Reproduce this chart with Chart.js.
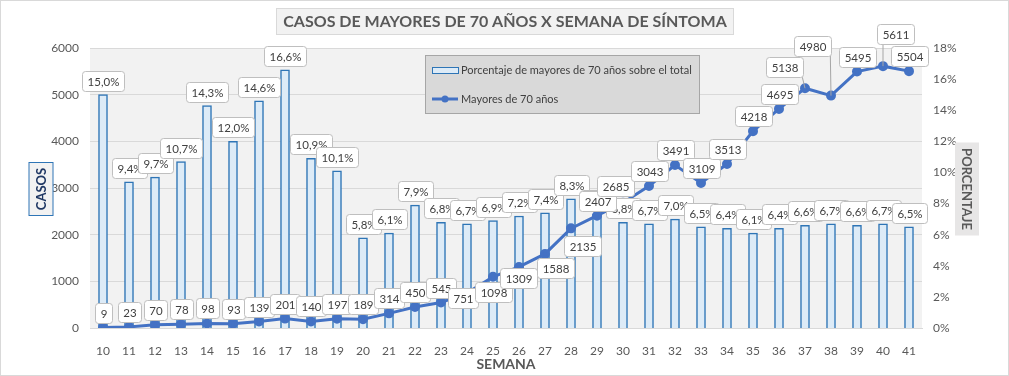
<!DOCTYPE html>
<html lang="es">
<head>
<meta charset="utf-8">
<title>Casos de mayores de 70 años por semana de síntoma</title>
<script src="https://cdn.jsdelivr.net/npm/chart.js@4.4.1/dist/chart.umd.min.js"></script>
<style>
  body { margin: 0; background: #fff; }
  #grafico { display: block; }
</style>
</head>
<body>
<canvas id="grafico" width="1009" height="376"></canvas>
<script>
// Datos
const semanas = [10, 11, 12, 13, 14, 15, 16, 17, 18, 19, 20, 21, 22, 23, 24, 25,
                 26, 27, 28, 29, 30, 31, 32, 33, 34, 35, 36, 37, 38, 39, 40, 41]
// Casos de mayores de 70 años (eje izquierdo)
const mayores70 = [9, 23, 70, 78, 98, 93, 139, 201, 140, 197, 189, 314, 450, 545, 751, 1098,
                   1309, 1588, 2135, 2407, 2685, 3043, 3491, 3109, 3513, 4218, 4695, 5138, 4980, 5495, 5611, 5504]
// Porcentaje de mayores de 70 años sobre el total (eje derecho)
const porcentaje = [15.0, 9.4, 9.7, 10.7, 14.3, 12.0, 14.6, 16.6, 10.9, 10.1, 5.8, 6.1, 7.9, 6.8, 6.7, 6.9,
                    7.2, 7.4, 8.3, 7.3, 6.8, 6.7, 7.0, 6.5, 6.4, 6.1, 6.4, 6.6, 6.7, 6.6, 6.7, 6.5]
const ticksCasos = [0, 1000, 2000, 3000, 4000, 5000, 6000]
const ticksPorcentaje = [0, 2, 4, 6, 8, 10, 12, 14, 16, 18]

// Etiquetas de la linea que no van justo encima del punto (semana: [dx, dy])
const desplazamientoEtiquetas = {
    24: [-4, 5], 25: [0, 15], 26: [-1, 11], 27: [10, 14], 28: [11, 18],
    30: [-8, -17], 37: [-21, -21], 38: [-19, -50], 40: [12, -32]
}

const fuente = "'Lato', 'Liberation Sans', sans-serif"
const grisTexto = "#595959"

// Dibuja una etiqueta con caja blanca redondeada
function cajaEtiqueta(ctx, texto, cx, cy) {
    const w = Math.round(ctx.measureText(texto).width + 10)
    const h = 20
    const x = Math.round(cx - w / 2) + 0.5
    const y = Math.round(cy - h / 2) + 0.5
    ctx.beginPath()
    ctx.roundRect(x, y, w, h, 3)
    ctx.fillStyle = "#ffffff"
    ctx.fill()
    ctx.strokeStyle = "#bfbfbf"
    ctx.lineWidth = 1
    ctx.stroke()
    ctx.fillStyle = "#404040"
    ctx.fillText(texto, x + w / 2, y + h / 2 + 0.5)
}

// Fondo, titulo, titulos de ejes y leyenda
const decoracion = {
    id: "decoracion",
    beforeDraw(chart) {
        const ctx = chart.ctx
        const a = chart.chartArea
        ctx.save()
        ctx.fillStyle = "#ffffff"
        ctx.fillRect(0, 0, chart.width, chart.height)
        ctx.fillStyle = "#f2f2f2"
        ctx.fillRect(a.left, a.top, a.right - a.left, a.bottom - a.top)
        ctx.strokeStyle = "#d9d9d9"
        ctx.lineWidth = 1
        ctx.strokeRect(0.5, 0.5, chart.width - 1, chart.height - 1)
        ctx.restore()
    },
    afterDraw(chart) {
        const ctx = chart.ctx
        const a = chart.chartArea
        const cx = (a.left + a.right) / 2
        const cy = (a.top + a.bottom) / 2
        ctx.save()
        ctx.textAlign = "center"
        ctx.textBaseline = "middle"

        // Titulo
        ctx.font = "bold 16px " + fuente
        const titulo = "CASOS DE MAYORES DE 70 AÑOS X SEMANA DE SÍNTOMA"
        const tw = ctx.measureText(titulo).width + 14
        ctx.fillStyle = "#f2f2f2"
        ctx.fillRect(Math.round(505 - tw / 2) + 0.5, 8.5, Math.round(tw), 26)
        ctx.strokeStyle = "#d9d9d9"
        ctx.strokeRect(Math.round(505 - tw / 2) + 0.5, 8.5, Math.round(tw), 26)
        ctx.fillStyle = grisTexto
        ctx.fillText(titulo, 505, 22)

        // Titulo eje X
        ctx.font = "bold 14px " + fuente
        ctx.fillText("SEMANA", cx, 364)

        // Titulo eje izquierdo
        ctx.save()
        ctx.translate(41, cy + 1)
        ctx.rotate(-Math.PI / 2)
        ctx.fillStyle = "#f2f2f2"
        ctx.fillRect(-26.5, -12, 53, 24)
        ctx.strokeStyle = "#2e75b6"
        ctx.strokeRect(-26.5, -12, 53, 24)
        ctx.font = "bold 13px " + fuente
        ctx.fillStyle = "#203864"
        ctx.fillText("CASOS", 0, 1)
        ctx.restore()

        // Titulo eje derecho
        ctx.save()
        ctx.translate(967, cy + 1)
        ctx.rotate(Math.PI / 2)
        ctx.fillStyle = "#e7e6e6"
        ctx.fillRect(-46.5, -12, 93, 24)
        ctx.font = "bold 13px " + fuente
        ctx.fillStyle = grisTexto
        ctx.fillText("PORCENTAJE", 0, 1)
        ctx.restore()

        // Leyenda
        const barras = chart.data.datasets[0]
        const linea = chart.data.datasets[1]
        ctx.fillStyle = "#d9d9d9"
        ctx.fillRect(425.5, 55.5, 274, 58)
        ctx.strokeStyle = "#a6a6a6"
        ctx.strokeRect(425.5, 55.5, 274, 58)
        ctx.fillStyle = barras.backgroundColor
        ctx.fillRect(432.5, 67.5, 26, 6)
        ctx.strokeStyle = barras.borderColor
        ctx.lineWidth = 1
        ctx.strokeRect(432.5, 67.5, 26, 6)
        ctx.beginPath()
        ctx.moveTo(432, 99)
        ctx.lineTo(458, 99)
        ctx.strokeStyle = linea.borderColor
        ctx.lineWidth = 3
        ctx.stroke()
        ctx.beginPath()
        ctx.arc(445, 99, 3.5, 0, Math.PI * 2)
        ctx.fillStyle = linea.borderColor
        ctx.fill()
        ctx.font = "11px " + fuente
        ctx.textAlign = "left"
        ctx.fillStyle = "#404040"
        ctx.fillText(barras.label, 461, 70.5)
        ctx.fillText(linea.label, 461, 99.5)
        ctx.restore()
    }
}

// Etiquetas de datos de las barras y de la linea
const etiquetas = {
    id: "etiquetas",
    afterDatasetsDraw(chart) {
        const ctx = chart.ctx
        ctx.save()
        ctx.font = "11.5px " + fuente
        ctx.textAlign = "center"
        ctx.textBaseline = "middle"

        chart.getDatasetMeta(0).data.forEach((bar, i) => {
            const texto = porcentaje[i].toFixed(1).replace(".", ",") + "%"
            cajaEtiqueta(ctx, texto, bar.x, bar.y - 14)
        })

        chart.getDatasetMeta(1).data.forEach((p, i) => {
            const d = desplazamientoEtiquetas[semanas[i]] || [0, -15]
            const cx = p.x + d[0]
            const cy = p.y + d[1]
            const w = ctx.measureText(String(mayores70[i])).width + 10
            // linea guia si la etiqueta esta lejos del punto
            const bx = Math.max(cx - w / 2, Math.min(p.x, cx + w / 2))
            const by = Math.max(cy - 10, Math.min(p.y, cy + 10))
            if (Math.hypot(bx - p.x, by - p.y) > 8) {
                ctx.beginPath()
                ctx.moveTo(p.x, p.y)
                ctx.lineTo(bx, by)
                ctx.strokeStyle = "#a6a6a6"
                ctx.lineWidth = 1
                ctx.stroke()
            }
            cajaEtiqueta(ctx, String(mayores70[i]), cx, cy)
        })
        ctx.restore()
    }
}

Chart.defaults.font.family = fuente
Chart.defaults.font.size = 12
Chart.defaults.color = grisTexto

new Chart(document.getElementById("grafico"), {
    data: {
        labels: semanas,
        datasets: [{
            type: "bar",
            label: "Porcentaje de mayores de 70 años sobre el total",
            data: porcentaje,
            yAxisID: "y1",
            backgroundColor: "#ddebf7",
            borderColor: "#2e75b6",
            borderWidth: 1.5,
            barThickness: 9,
            order: 1
        }, {
            type: "line",
            label: "Mayores de 70 años",
            data: mayores70,
            yAxisID: "y",
            borderColor: "#4472c4",
            backgroundColor: "#4472c4",
            borderWidth: 3,
            pointRadius: 3.5,
            pointHoverRadius: 3.5,
            tension: 0,
            order: 0
        }]
    },
    options: {
        responsive: false,
        animation: false,
        layout: { padding: { top: 48, left: 0, right: 0, bottom: 0 } },
        plugins: {
            legend: { display: false },
            title: { display: false },
            tooltip: { enabled: false }
        },
        scales: {
            x: {
                grid: { display: false },
                border: { color: "#d9d9d9" },
                ticks: { padding: 8, maxRotation: 0, autoSkip: false },
                afterFit(s) { s.height = 48 }
            },
            y: {
                position: "left",
                min: 0,
                max: 6000,
                afterBuildTicks(s) { s.ticks = ticksCasos.map(v => ({ value: v })) },
                grid: { color: "#d9d9d9", drawTicks: false },
                border: { display: false },
                ticks: { padding: 11, callback: v => String(v) },
                afterFit(s) { s.width = 90 }
            },
            y1: {
                position: "right",
                min: 0,
                max: 18,
                afterBuildTicks(s) { s.ticks = ticksPorcentaje.map(v => ({ value: v })) },
                grid: { display: false, drawTicks: false },
                border: { display: false },
                ticks: { padding: 11, callback: v => v + "%" },
                afterFit(s) { s.width = 87 }
            }
        }
    },
    plugins: [decoracion, etiquetas]
})
</script>
</body>
</html>
